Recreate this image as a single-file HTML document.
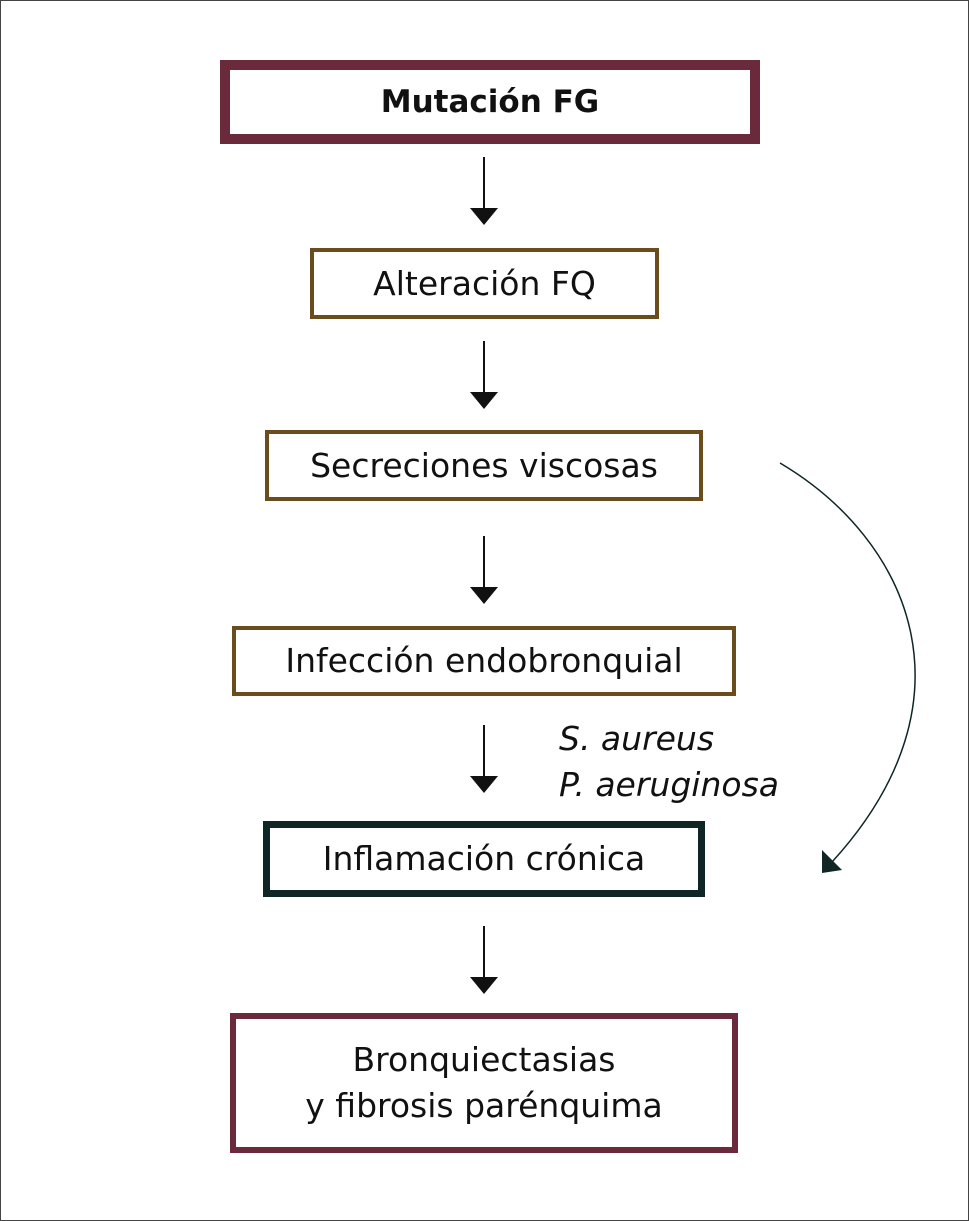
<!DOCTYPE html>
<html><head><meta charset="utf-8"><style>
body{margin:0;background:#fff;}
.wrap{position:relative;width:969px;height:1221px;overflow:hidden;font-family:"DejaVu Sans","Liberation Sans",sans-serif;color:#111;}
.frame{position:absolute;left:0;top:0;width:967px;height:1219px;border:1px solid #444;}
.b{position:absolute;box-sizing:border-box;background:#fff;display:flex;align-items:center;justify-content:center;text-align:center;font-size:33px;line-height:46px;}
.it{position:absolute;font-style:italic;font-size:33px;line-height:46px;}
</style></head><body><div class="wrap">
<div class="frame"></div>
<div class="b" style="left:220px;top:60px;width:540px;height:84px;border:10px solid #6b2a3b;font-weight:bold;font-size:31px;">Mutación FG</div>
<div class="b" style="left:310px;top:248px;width:349px;height:71px;border:4px solid #6b4c1c;">Alteración FQ</div>
<div class="b" style="left:265px;top:430px;width:438px;height:71px;border:4px solid #6b4c1c;">Secreciones viscosas</div>
<div class="b" style="left:232px;top:626px;width:504px;height:70px;border:4px solid #6b4c1c;">Infección endobronquial</div>
<div class="b" style="left:263px;top:821px;width:442px;height:76px;border:7px solid #0f2526;">Inflamación crónica</div>
<div class="b" style="left:230px;top:1013px;width:508px;height:140px;border:6px solid #6b2a3b;">Bronquiectasias<br>y fibrosis parénquima</div>
<div class="it" style="left:559px;top:716px;">S. aureus</div>
<div class="it" style="left:559px;top:762px;">P. aeruginosa</div>
<svg width="969" height="1221" style="position:absolute;left:0;top:0">
<g stroke="#111" stroke-width="2" fill="#111">
<line x1="484" y1="157" x2="484" y2="210"/><polygon points="470,208 498,208 484,225" stroke="none"/>
<line x1="484" y1="341" x2="484" y2="394"/><polygon points="470,392 498,392 484,409" stroke="none"/>
<line x1="484" y1="536" x2="484" y2="589"/><polygon points="470,587 498,587 484,604" stroke="none"/>
<line x1="484" y1="725" x2="484" y2="778"/><polygon points="470,776 498,776 484,793" stroke="none"/>
<line x1="484" y1="926" x2="484" y2="979"/><polygon points="470,977 498,977 484,994" stroke="none"/>
</g>
<path d="M780,463 C910,540 980,700 832,862" fill="none" stroke="#0f2526" stroke-width="1.5"/>
<polygon points="822,873 822,850 842,870" fill="#0f2526"/>
</svg>
</div></body></html>
